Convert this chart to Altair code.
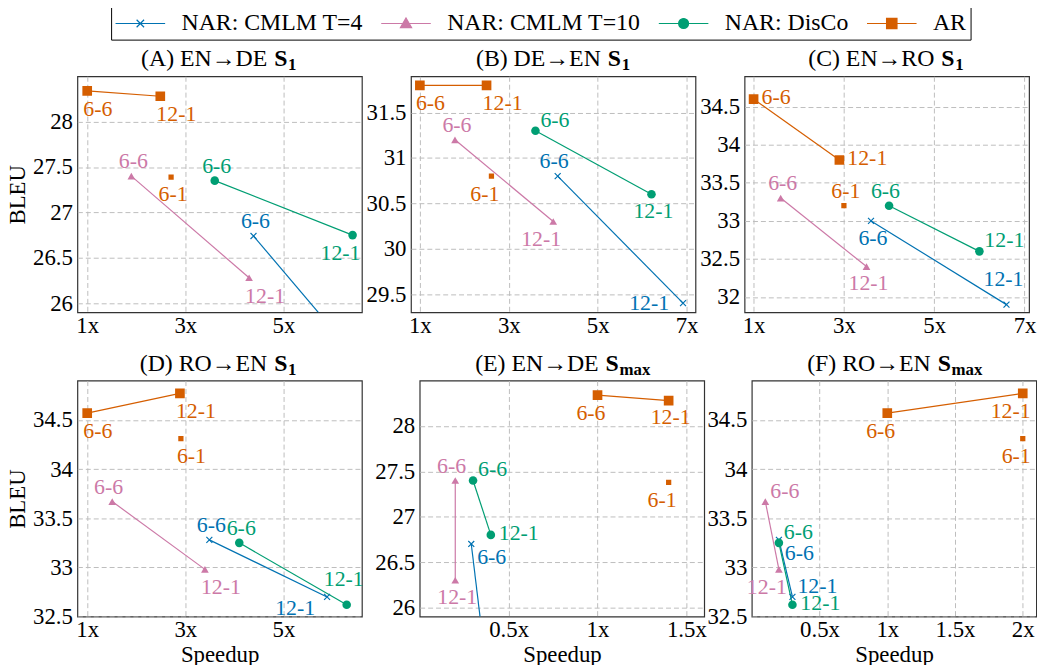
import altair as alt
import pandas as pd

FONT = "Liberation Serif"

PANELS = ["A", "B", "C", "D", "E", "F"]
TITLE_MAIN = ["(A) EN→DE", "(B) DE→EN", "(C) EN→RO", "(D) RO→EN", "(E) EN→DE", "(F) RO→EN"]
TITLE_SUB = ["1", "1", "1", "1", "max", "max"]

SERIES = ["NAR: CMLM T=4", "NAR: CMLM T=10", "NAR: DisCo", "AR"]
CONFIGS = ["6-6", "12-1"]
COLORS = ["#0072B2", "#CC79A7", "#009E73", "#D55E00"]

# speedup (x) and BLEU (y) per panel, each pair is [6-6, 12-1]
CMLM4_X = [[4.39, 6.65], [4.10, 6.92], [3.60, 6.60], [3.49, 5.89], [0.29, 0.376], [0.20, 0.30]]
CMLM4_Y = [[26.74, 25.30], [30.80, 29.40], [33.00, 31.90], [33.28, 32.70], [26.70, 25.30], [33.28, 32.70]]
CMLM10_X = [[1.90, 4.30], [1.79, 4.00], [1.60, 3.50], [1.51, 3.40], [0.20, 0.20], [0.10, 0.20]]
CMLM10_Y = [[27.40, 26.28], [31.20, 30.30], [33.30, 32.40], [33.67, 32.98], [27.40, 26.30], [33.67, 32.98]]
DISCO_X = [[3.60, 6.41], [3.60, 6.21], [4.00, 6.00], [4.10, 6.29], [0.30, 0.40], [0.20, 0.30]]
DISCO_Y = [[27.35, 26.75], [31.30, 30.60], [33.20, 32.60], [33.25, 32.62], [27.40, 26.80], [33.25, 32.62]]
AR_X = [[1.00, 2.49], [1.00, 2.50], [1.00, 2.90], [1.00, 2.89], [1.00, 1.40], [1.00, 2.00]]
AR_Y = [[28.34, 28.28], [31.80, 31.80], [34.60, 33.80], [34.57, 34.77], [28.34, 28.28], [34.57, 34.77]]
AR61_X = [2.71, 2.61, 3.00, 2.91, 1.40, 2.00]
AR61_Y = [27.39, 30.80, 33.20, 34.31, 27.38, 34.31]

X_DOMAIN = [[0.8, 6.6], [0.8, 7.2], [0.8, 7.1], [0.8, 6.6], [0, 1.6], [0, 2.1]]
Y_DOMAIN = [[25.9, 28.5], [29.3, 31.9], [31.8, 34.9], [32.5, 34.9], [25.9, 28.5], [32.5, 34.9]]
X_TICKS = [[1, 3, 5], [1, 3, 5, 7], [1, 3, 5, 7], [1, 3, 5], [0.5, 1, 1.5], [0.5, 1, 1.5, 2]]
Y_TICKS = [[26, 26.5, 27, 27.5, 28], [29.5, 30, 30.5, 31, 31.5], [32, 32.5, 33, 33.5, 34, 34.5],
           [32.5, 33, 33.5, 34, 34.5], [26, 26.5, 27, 27.5, 28], [32.5, 33, 33.5, 34, 34.5]]

# label placement (style): per panel [[T4 6-6, 12-1], [T10 ...], [DisCo ...], [AR ...], AR 6-1]
LABEL_POS = [
    [["above", "none"], ["above", "below_r"], ["above", "below_l"], ["below_r", "below_r"], "below"],
    [["above_l", "left"], ["above", "below_l"], ["above_r", "below"], ["below_r", "below_r"], "below_l"],
    [["below", "high"], ["above", "below"], ["above_l", "above_r"], ["right", "right"], "above"],
    [["above", "left_low"], ["above_l", "below_r"], ["above", "high"], ["below_r", "below_r"], "below_r"],
    [["right_low", "none"], ["above_l", "below"], ["above_r", "right"], ["below_l", "below"], "below_l"],
    [["right_low", "above_r"], ["above_r", "below_l"], ["above_r", "right"], ["below_l", "below_l"], "below_l"],
]
ANCHORS = {
    "above": ("center", 2, -15), "above_l": ("right", 11, -15), "above_r": ("left", 5, -11),
    "below": ("center", 2, 17), "below_l": ("right", 8, 18), "below_r": ("left", -4, 18),
    "right": ("left", 8, -2), "right_low": ("left", 6, 13), "left": ("right", -14, 0),
    "left_low": ("right", -12, 11), "high": ("center", -3, -26),
}

X_PATH = "M-1,-1L1,1M-1,1L1,-1"
MARKERS = [
    dict(shape=X_PATH, filled=False, size=36, strokeWidth=1.2),
    dict(shape="triangle-up", filled=True, size=60),
    dict(shape="circle", filled=True, size=75),
    dict(shape="square", filled=True, size=95),
]
LEGEND_SHAPES = [
    "M-2,0H2M-0.3,-0.3L0.3,0.3M-0.3,0.3L0.3,-0.3",
    "M-2,0H2M0,-0.45L0.45,0.33H-0.45Z",
    "M-2,0H2M0.4,0A0.4,0.4,0,1,1,-0.4,0A0.4,0.4,0,1,1,0.4,0Z",
    "M-2,0H2M-0.42,-0.42H0.42V0.42H-0.42Z",
]

series_xy = [(CMLM4_X, CMLM4_Y), (CMLM10_X, CMLM10_Y), (DISCO_X, DISCO_Y), (AR_X, AR_Y)]
rows = []
for i, p in enumerate(PANELS):
    for k, (sx, sy) in enumerate(series_xy):
        for j, cfg in enumerate(CONFIGS):
            rows.append(dict(panel=p, series=SERIES[k], cfg=cfg, ord=j, x=sx[i][j], y=sy[i][j],
                             anchor=LABEL_POS[i][k][j], col=COLORS[k]))
    rows.append(dict(panel=p, series="AR", cfg="6-1", ord=2, x=AR61_X[i], y=AR61_Y[i],
                     anchor=LABEL_POS[i][4], col=COLORS[3]))
df = pd.DataFrame(rows)

W, H = 287, 238


def panel(i):
    p = PANELS[i]
    pdf = df[df.panel == p]
    X = alt.X("x:Q", scale=alt.Scale(domain=X_DOMAIN[i], nice=False, zero=False),
              axis=alt.Axis(values=X_TICKS[i], format="~g", labelExpr="datum.label + 'x'",
                            title="Speedup" if i >= 3 else None))
    Y = alt.Y("y:Q", scale=alt.Scale(domain=Y_DOMAIN[i], nice=False, zero=False),
              axis=alt.Axis(values=Y_TICKS[i], format="~g", title="BLEU" if i % 3 == 0 else None))
    layers = []
    for s, color in zip(SERIES, COLORS):
        sd = pdf[(pdf.series == s) & (pdf.cfg != "6-1")]
        layers.append(alt.Chart(sd).mark_line(clip=True, color=color, strokeWidth=1.2)
                      .encode(x=X, y=Y, order="ord:Q"))
    for s, color, mk in zip(SERIES, COLORS, MARKERS):
        sd = pdf[(pdf.series == s) & (pdf.cfg != "6-1")]
        layers.append(alt.Chart(sd).mark_point(clip=True, color=color, opacity=1, **mk).encode(x=X, y=Y))
    sd = pdf[pdf.cfg == "6-1"]
    layers.append(alt.Chart(sd).mark_point(clip=True, color=COLORS[3], opacity=1, shape="square",
                                           filled=True, size=28).encode(x=X, y=Y))
    for name, (align, dx, dy) in ANCHORS.items():
        sd = pdf[pdf.anchor == name]
        if len(sd) == 0:
            continue
        layers.append(alt.Chart(sd).mark_text(align=align, dx=dx, dy=dy, baseline="middle",
                                              font=FONT, fontSize=22)
                      .encode(x=X, y=Y, text="cfg:N", color=alt.Color("col:N", scale=None)))
    # panel title
    sub = TITLE_SUB[i]
    a = 48 if sub == "1" else 37
    cx = W / 2
    tdf = pd.DataFrame({"t": [TITLE_MAIN[i]], "s": ["S"], "sub": [sub]})
    layers.append(alt.Chart(tdf).mark_text(align="right", baseline="alphabetic", font=FONT, fontSize=24)
                  .encode(text="t:N", x=alt.value(cx + a), y=alt.value(-10)))
    layers.append(alt.Chart(tdf).mark_text(align="left", baseline="alphabetic", font=FONT, fontSize=24,
                                           fontWeight="bold")
                  .encode(text="s:N", x=alt.value(cx + a + 7), y=alt.value(-10)))
    layers.append(alt.Chart(tdf).mark_text(align="left", baseline="alphabetic", font=FONT, fontSize=17,
                                           fontWeight="bold")
                  .encode(text="sub:N", x=alt.value(cx + a + 21), y=alt.value(-6)))
    if i == 0:
        ldf = pd.DataFrame({"series": SERIES, "x": [X_DOMAIN[0][0]] * 4, "y": [Y_DOMAIN[0][0]] * 4})
        leg = alt.Legend(title=None, orient="none", legendX=34, legendY=-71, direction="horizontal",
                         labelFont=FONT, labelFontSize=24, labelColor="black", symbolSize=625,
                         symbolStrokeWidth=1.2, symbolOpacity=1, symbolOffset=12, labelOffset=28,
                         columnPadding=16, padding=4, strokeColor="black", fillColor="white",
                         labelLimit=400)
        layers.append(alt.Chart(ldf).mark_point(filled=True, opacity=0).encode(
            x=X, y=Y,
            color=alt.Color("series:N", scale=alt.Scale(domain=SERIES, range=COLORS), legend=leg),
            stroke=alt.Stroke("series:N", scale=alt.Scale(domain=SERIES, range=COLORS), legend=leg),
            shape=alt.Shape("series:N", scale=alt.Scale(domain=SERIES, range=LEGEND_SHAPES), legend=leg),
        ))
    return alt.layer(*layers).properties(width=W, height=H)


row1 = alt.hconcat(panel(0), panel(1), panel(2), spacing=49.5, bounds="flush")
row2 = alt.hconcat(panel(3), alt.hconcat(panel(4), panel(5), spacing=48, bounds="flush"),
                   spacing=58.3, bounds="flush")
chart = alt.vconcat(row1, row2, spacing=13, bounds="full").properties(
    padding={"left": -2, "top": -6, "right": 0, "bottom": 0}
).configure(font=FONT).configure_view(stroke="#333333", strokeWidth=1.2).configure_axis(
    domain=False, ticks=False, grid=True, gridColor="#bdbdbd", gridDash=[5, 3], gridWidth=1,
    labelFont=FONT, labelFontSize=23, labelColor="black", titleFont=FONT, titleFontSize=23,
    titleFontWeight="normal", titleColor="black"
).configure_axisX(labelPadding=2, titlePadding=2).configure_axisY(labelPadding=5, titlePadding=3)

chart.save("out.html", embed_options={"renderer": "svg", "actions": False})
